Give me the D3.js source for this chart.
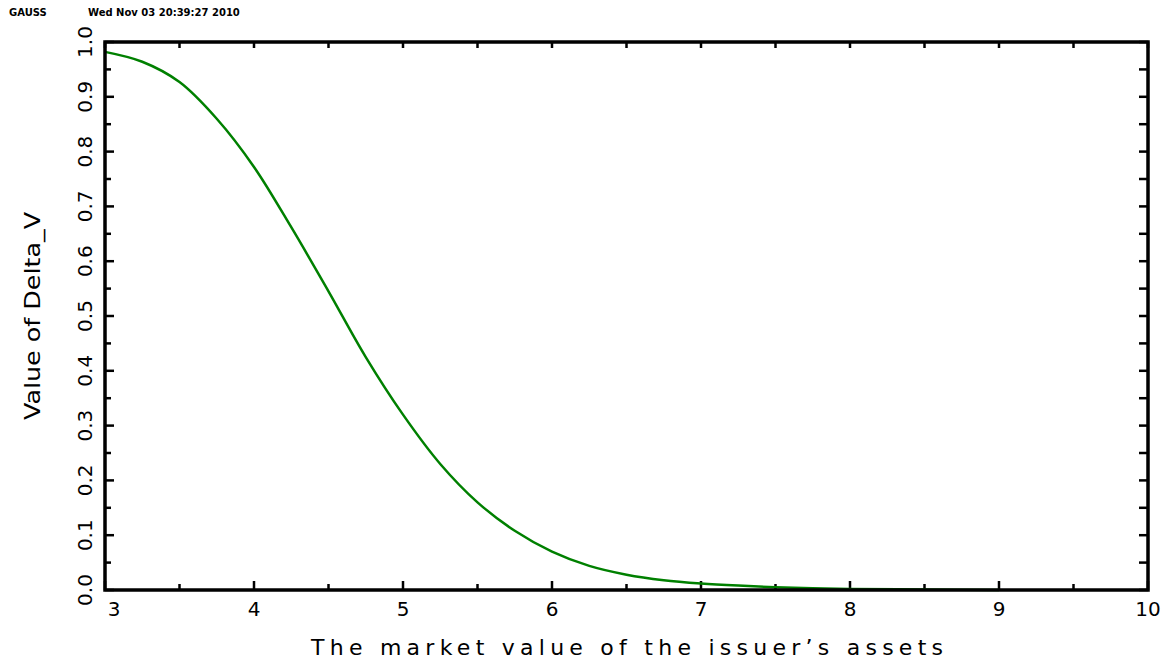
<!DOCTYPE html>
<html>
<head>
<meta charset="utf-8">
<script src="https://cdn.jsdelivr.net/npm/d3@7"></script>
<style>
  body { margin: 0; background: #fff; }
  text { font-family: "DejaVu Sans", sans-serif; fill: #000; }
</style>
</head>
<body>
<script>
// data
const assetValues = [3.0, 3.25, 3.5, 3.75, 4.0, 4.25, 4.5, 4.75, 5.0, 5.25, 5.5, 5.75,
  6.0, 6.25, 6.5, 6.75, 7.0, 7.25, 7.5, 7.75, 8.0, 8.5, 9.0];
const deltaValues = [0.982, 0.964, 0.927, 0.86, 0.772, 0.662, 0.545, 0.425, 0.32, 0.23, 0.16, 0.108,
  0.07, 0.044, 0.028, 0.018, 0.012, 0.008, 0.005, 0.003, 0.002, 0.001, 0.0];
const xTicks = [3, 4, 5, 6, 7, 8, 9, 10];
const yTicks = [0, 0.1, 0.2, 0.3, 0.4, 0.5, 0.6, 0.7, 0.8, 0.9, 1.0];

const width = 1173;
const height = 661;
const margin = { top: 42, right: 25, bottom: 71, left: 105 };

const svg = d3.select("body").append("svg")
  .attr("width", width)
  .attr("height", height);

// header
svg.append("text").attr("x", 9).attr("y", 16)
  .style("font-size", "10px").style("font-weight", "bold").text("GAUSS");
svg.append("text").attr("x", 88).attr("y", 16)
  .style("font-size", "10px").style("font-weight", "bold")
  .text("Wed Nov 03 20:39:27 2010");

const x = d3.scaleLinear().domain([3, 10]).range([margin.left, width - margin.right]);
const y = d3.scaleLinear().domain([0, 1]).range([height - margin.bottom, margin.top]);

const g = svg.append("g");

// ticks (inward, on all four sides)
const xMinor = d3.range(3.5, 10, 1);
const yMinor = d3.range(0.05, 1, 0.1);
const tickLine = (x1, y1, x2, y2) =>
  g.append("line").attr("x1", x1).attr("y1", y1).attr("x2", x2).attr("y2", y2)
    .attr("stroke", "#000").attr("stroke-width", 2.5);

xTicks.forEach((t) => {
  tickLine(x(t), y(0), x(t), y(0) - 9);
  tickLine(x(t), y(1), x(t), y(1) + 6);
});
xMinor.forEach((t) => {
  tickLine(x(t), y(0), x(t), y(0) - 6);
  tickLine(x(t), y(1), x(t), y(1) + 6);
});
yTicks.forEach((t) => {
  tickLine(x(3), y(t), x(3) + 9, y(t));
  tickLine(x(10), y(t), x(10) - 9, y(t));
});
yMinor.forEach((t) => {
  tickLine(x(3), y(t), x(3) + 6, y(t));
  tickLine(x(10), y(t), x(10) - 9, y(t));
});

// curve
const line = d3.line()
  .x((d, i) => x(assetValues[i]))
  .y((d) => y(d))
  .curve(d3.curveCatmullRom);

g.append("path")
  .datum(deltaValues)
  .attr("d", line)
  .attr("fill", "none")
  .attr("stroke", "#008000")
  .attr("stroke-width", 2.5);

// frame
g.append("rect")
  .attr("x", x(3)).attr("y", y(1))
  .attr("width", x(10) - x(3)).attr("height", y(0) - y(1))
  .attr("fill", "none").attr("stroke", "#000").attr("stroke-width", 3.5);

// x tick labels
svg.selectAll(".xlab").data(xTicks).enter().append("text")
  .attr("class", "xlab")
  .attr("x", (d) => x(d) + (d === 3 ? 9 : 0))
  .attr("y", y(0) + 26)
  .attr("text-anchor", "middle")
  .style("font-size", "20px")
  .text((d) => d);

// y tick labels (rotated)
svg.selectAll(".ylab").data(yTicks).enter().append("text")
  .attr("class", "ylab")
  .attr("transform", (d) => `translate(${x(3) - 13},${y(d)}) rotate(-90)`)
  .attr("text-anchor", "middle")
  .style("font-size", "20px")
  .text((d) => d3.format(".1f")(d));

// axis titles
svg.append("text")
  .attr("transform", `translate(40,${316}) rotate(-90)`)
  .attr("text-anchor", "middle")
  .style("font-size", "21px")
  .attr("textLength", 208)
  .attr("lengthAdjust", "spacingAndGlyphs")
  .text("Value of Delta_V");

svg.append("text")
  .attr("x", 627)
  .attr("y", 655)
  .attr("text-anchor", "middle")
  .style("font-size", "22px")
  .attr("textLength", 632)
  .attr("lengthAdjust", "spacing")
  .text("The market value of the issuer\u2019s assets");
</script>
</body>
</html>
